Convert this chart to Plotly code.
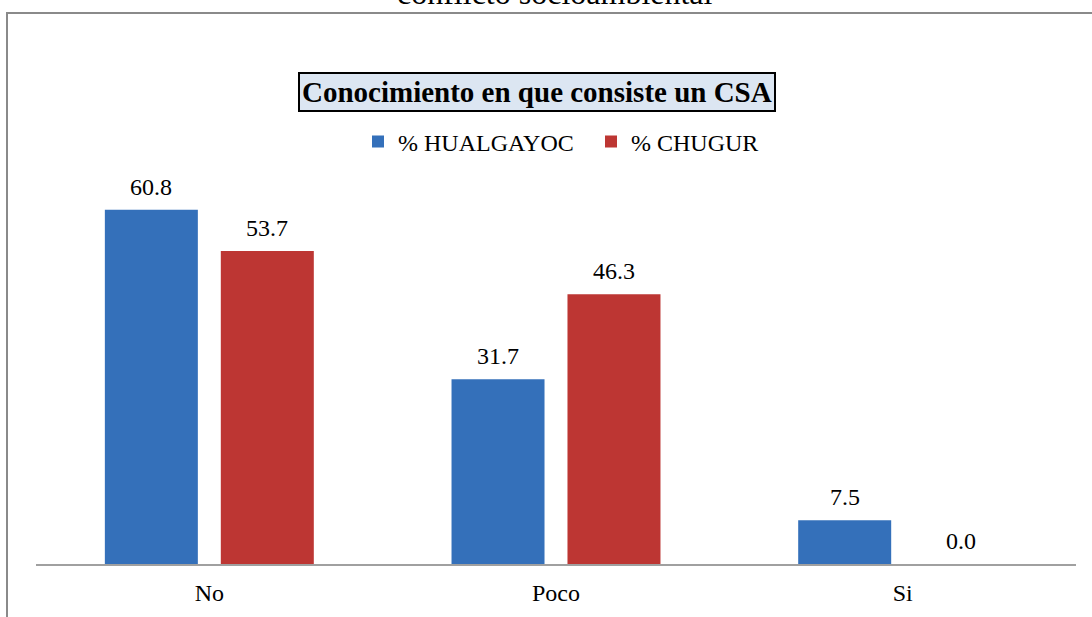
import plotly.graph_objects as go

categories = ["No", "Poco", "Si"]
hualgayoc = [60.8, 31.7, 7.5]
chugur = [53.7, 46.3, 0.0]
series_names = ["% HUALGAYOC", "% CHUGUR"]
chart_title = "Conocimiento en que consiste un CSA"
caption_text = "conflicto socioambiental"

FONT = "Liberation Serif"
BLUE = "#3470BA"
RED = "#BD3633"

W, H = 1092, 617
L, R, T, B = 36, 16, 127, 53
pw, ph = W - L - R, H - T - B

def px_x(x):
    return (x - L) / pw

def px_y(y):
    return (H - B - y) / ph

fig = go.Figure()
fig.add_trace(go.Bar(x=categories, y=hualgayoc, name=series_names[0],
                     marker=dict(color=BLUE, line=dict(width=0))))
fig.add_trace(go.Bar(x=categories, y=chugur, name=series_names[1],
                     marker=dict(color=RED, line=dict(width=0))))

annotations = []
for vals, shift in ((hualgayoc, -58), (chugur, 58)):
    for c, v in zip(categories, vals):
        annotations.append(dict(x=c, y=v, xref="x", yref="y", text=f"{v:.1f}",
                                showarrow=False, xshift=shift, yanchor="bottom",
                                yshift=8, font=dict(family=FONT, size=24, color="#000")))

annotations.append(dict(x=px_x(536.5), y=px_y(92), xref="paper", yref="paper",
                        text=f"<b>{chart_title}</b>", showarrow=False,
                        xanchor="center", yanchor="middle",
                        font=dict(family=FONT, size=29, color="#000"),
                        bgcolor="#DCE6F2", bordercolor="#000", borderwidth=2, borderpad=2))
annotations.append(dict(x=px_x(555), y=px_y(13), xref="paper", yref="paper",
                        text=caption_text, showarrow=False,
                        xanchor="center", yanchor="bottom",
                        font=dict(family=FONT, size=32, color="#000")))

fig.update_layout(
    width=W, height=H,
    margin=dict(l=L, r=R, t=T, b=B, pad=0, autoexpand=False),
    paper_bgcolor="white", plot_bgcolor="white",
    barmode="group", bargap=0.331, bargroupgap=0.198,
    showlegend=True,
    legend=dict(orientation="h", x=px_x(358), xanchor="left", y=px_y(142), yanchor="middle",
                font=dict(family=FONT, size=24, color="#000"),
                entrywidth=188, entrywidthmode="pixels",
                bgcolor="rgba(0,0,0,0)", itemclick=False),
    annotations=annotations,
    shapes=[dict(type="rect", xref="paper", yref="paper",
                 x0=px_x(7), x1=px_x(1100), y0=px_y(640), y1=px_y(13),
                 line=dict(color="#8A8A8A", width=2), fillcolor="rgba(0,0,0,0)", layer="below")],
    xaxis=dict(showline=True, linecolor="#A0A0A0", linewidth=2, showgrid=False,
               ticks="", tickfont=dict(family=FONT, size=24, color="#000"),
               ticklabelstandoff=6, automargin=False, fixedrange=True),
    yaxis=dict(range=[0, 75], visible=False, showgrid=False, zeroline=False,
               automargin=False, fixedrange=True),
)

fig.write_html("out.html", config={"displayModeBar": False},
               post_script="document.body.style.margin='0';document.body.style.overflow='hidden';")
